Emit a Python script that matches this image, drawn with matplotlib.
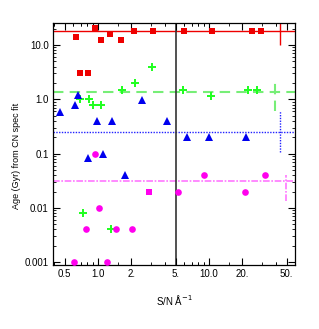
import matplotlib
matplotlib.use("Agg")
import matplotlib.pyplot as plt
from matplotlib.ticker import FixedLocator, FixedFormatter, LogLocator, NullFormatter

plt.rcParams['font.family'] = ['Liberation Sans', 'DejaVu Sans']

# red squares
red_x = [0.634, 0.693, 0.807, 0.94, 1.057, 1.27, 1.61, 2.12, 3.13, 5.99, 10.6, 24.3, 29.2]
red_y = [13.9, 3.0, 3.0, 20.3, 12.5, 15.7, 12.5, 18, 18, 18, 18, 18, 18]

# green crosses
green_x = [0.688, 0.825, 0.907, 1.064, 1.657, 2.14, 3.08, 5.87, 10.5, 22.6, 27.3, 0.728, 1.318]
green_y = [1.0, 1.0, 0.785, 0.785, 1.48, 1.97, 3.98, 1.48, 1.16, 1.48, 1.48, 0.0079, 0.004]

# blue triangles
blue_x = [0.458, 0.62, 0.656, 0.98, 1.34, 2.5, 0.807, 1.109, 4.21, 6.3, 9.9, 21.6, 1.74]
blue_y = [0.59, 0.785, 1.2, 0.4, 0.4, 0.97, 0.082, 0.098, 0.4, 0.205, 0.2, 0.2, 0.041]

# magenta circles (+ one square)
mag_x = [0.934, 0.608, 0.78, 1.02, 1.2, 1.46, 2.04, 5.22, 8.95, 21, 32]
mag_y = [0.098, 0.001, 0.004, 0.01, 0.001, 0.004, 0.004, 0.02, 0.04, 0.02, 0.04]
mag_sq_x = [2.9]
mag_sq_y = [0.02]

# mean levels and their spreads
levels = {"red": 18.0, "green": 1.38, "blue": 0.247, "mag": 0.031}
bar_x = {"red": 44, "green": 39, "blue": 44, "mag": 49}
bar_lo = {"red": 10.0, "green": 0.61, "blue": 0.105, "mag": 0.0136}
bar_hi = {"red": 26.0, "green": 1.97, "blue": 0.61, "mag": 0.041}

xticks = [0.5, 1.0, 2.0, 5.0, 10.0, 20.0, 50.0]
xtick_labels = ["0.5", "1.0", "2.", "5.", "10.0", "20.", "50."]
yticks = [0.001, 0.01, 0.1, 1.0, 10.0]
ytick_labels = ["0.001", "0.01", "0.1", "1.0", "10.0"]

fig = plt.figure(figsize=(3.19, 3.29), dpi=100)
ax = fig.add_axes([0.166, 0.1945, 0.759, 0.7355])
ax.set_xscale("log")
ax.set_yscale("log")
ax.set_xlim(0.393, 59.6)
ax.set_ylim(0.000887, 25.4)

styles = {
    "red": dict(color="#ee0000", ls="-", lw=1.0),
    "green": dict(color="#77ee77", ls=(0, (5, 3)), lw=1.5),
    "blue": dict(color="#2222ff", ls=(0, (1, 1)), lw=1.0),
    "mag": dict(color="#ff77ff", ls=(0, (4, 1, 1, 1)), lw=1.2),
}
for k in levels:
    ax.axhline(levels[k], **styles[k], zorder=1)
    ax.vlines(bar_x[k], bar_lo[k], bar_hi[k], **styles[k], zorder=1)

ax.axvline(5.0, color="#333333", lw=1.2, zorder=1)

ax.plot(red_x, red_y, "s", color="#ee0000", ms=4.3, mew=0, zorder=3)
ax.plot(green_x, green_y, "P", color="#22ff22", ms=6, mew=0, zorder=3)
ax.plot(blue_x, blue_y, "^", color="#0000ee", ms=5.2, mew=0, zorder=3)
ax.plot(mag_x, mag_y, "o", color="#ff00ee", ms=4.8, mew=0, zorder=3, clip_on=False)
ax.plot(mag_sq_x, mag_sq_y, "s", color="#ff00ee", ms=4.3, mew=0, zorder=3)

ax.xaxis.set_major_locator(FixedLocator(xticks))
ax.xaxis.set_major_formatter(FixedFormatter(xtick_labels))
ax.xaxis.set_minor_locator(LogLocator(base=10, subs=[0.4, 0.6, 0.7, 0.8, 0.9, 1.5, 3, 4, 6, 7, 8, 9]))
ax.xaxis.set_minor_formatter(NullFormatter())
ax.yaxis.set_major_locator(FixedLocator(yticks))
ax.yaxis.set_major_formatter(FixedFormatter(ytick_labels))
ax.yaxis.set_minor_locator(LogLocator(base=10, subs=[2, 3, 4, 5, 6, 7, 8, 9]))
ax.yaxis.set_minor_formatter(NullFormatter())

ax.tick_params(which="both", direction="in", top=True, right=True, labelsize=7, pad=3)
ax.tick_params(which="major", length=5, width=0.8)
ax.tick_params(which="minor", length=2.5, width=0.6)
for s in ax.spines.values():
    s.set_linewidth(0.9)

ax.set_xlabel("S/N Å$^{-1}$", fontsize=7, labelpad=10)
ax.set_ylabel("Age (Gyr) from CN spec fit", fontsize=6.5, labelpad=2)
ax.yaxis.set_label_coords(-0.13, 0.45)

fig.savefig("out.png", dpi=100)
